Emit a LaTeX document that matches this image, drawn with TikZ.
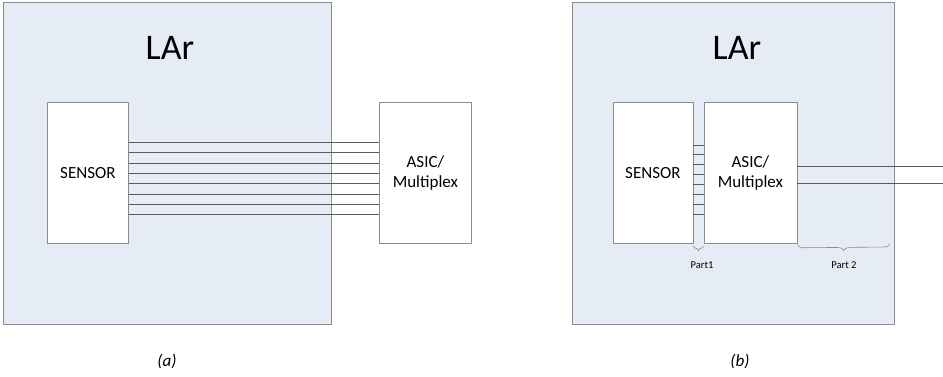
\documentclass[tikz,border=0pt]{standalone}
\usepackage{fontspec}
\setmainfont{Carlito}
\usetikzlibrary{decorations.pathreplacing,calc}
\definecolor{larfill}{HTML}{E6ECF6}
\definecolor{larborder}{HTML}{8C8C8C}
\definecolor{wire}{HTML}{5A5A5A}
\begin{document}
\begin{tikzpicture}[x=1pt,y=-1pt,
  outerbox/.style={draw=larborder,fill=larfill,line width=0.9pt,minimum width=#1,minimum height=321pt,anchor=north west,inner sep=0pt},
  chipbox/.style={draw=larborder,fill=white,line width=0.8pt,minimum height=141pt,minimum width=#1,anchor=north west,inner sep=0pt,font=\fontsize{17}{20}\selectfont,align=center},
  wireline/.style={draw=wire,line width=0.6pt},
  bracestyle/.style={draw=larborder,line width=0.6pt,decorate,decoration={brace,mirror,amplitude=#1}},
  lartext/.style={font=\fontsize{36}{40}\selectfont},
  smalltext/.style={font=\fontsize{10.5}{12}\selectfont},
  captext/.style={font=\fontsize{17}{20}\selectfont\itshape}]
\useasboundingbox (0,0) rectangle (943,377);
% panel (a)
\node[outerbox=328pt] (boxa) at (2.5,2.5) {};
\node[lartext] (lara) at (170,48) {LAr};
\node[chipbox=81pt] (sa) at (47,102) {SENSOR};
\node[chipbox=92pt] (aa) at (379,102) {ASIC/\\Multiplex};
\foreach \i in {0,...,7}{
  \draw[wireline] ([yshift={30.5pt-10.29pt*\i}]sa.east) -- ([yshift={30.5pt-10.29pt*\i}]aa.west);
}
\node[captext] (capa) at (167,361) {(a)};
% panel (b)
\node[outerbox=322pt] (boxb) at (572,2.5) {};
\node[lartext] (larb) at (737,48) {LAr};
\node[chipbox=80pt] (sb) at (612.5,102) {SENSOR};
\node[chipbox=93pt] (ab) at (703.5,102) {ASIC/\\Multiplex};
\foreach \i in {0,...,7}{
  \draw[wireline] ([yshift={28pt-9.86pt*\i}]sb.east) -- ([yshift={28pt-9.86pt*\i}]ab.west);
}
\coordinate (outa) at (943,166);
\coordinate (outb) at (943,183);
\draw[wireline] (ab.east |- outa) -- (outa);
\draw[wireline] (ab.east |- outb) -- (outb);
\draw[bracestyle=5pt] ([yshift=-2pt]sb.south east) -- ([yshift=-2pt]ab.south west) coordinate[midway] (b1);
\draw[bracestyle=6pt] ([yshift=-1pt]ab.south east) -- (890,244) coordinate[midway] (b2);
\node[smalltext] (p1) at (702,265) {Part1};
\node[smalltext] (p2) at (844,265) {Part 2};
\node[captext] (capb) at (740,361) {(b)};
\end{tikzpicture}
\end{document}
